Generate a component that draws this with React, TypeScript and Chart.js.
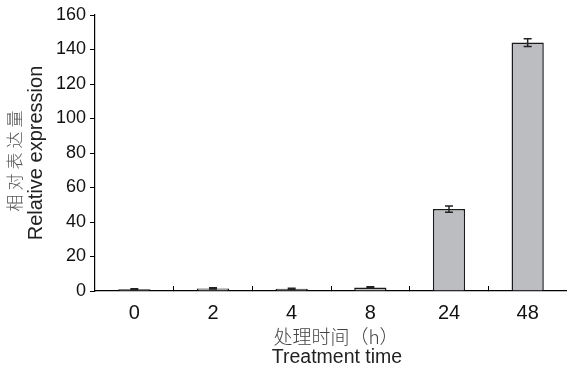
import React, { useEffect, useRef } from 'react';
import { Chart, registerables } from 'chart.js';

Chart.register(...registerables);

const categories = ['0', '2', '4', '8', '24', '48'];
const values = [1.0, 1.5, 1.3, 2.0, 47.5, 144];
const errors = [0.3, 0.4, 0.3, 0.4, 1.8, 2.2];
const yTickMin = 0;
const yTickMax = 160;
const yTickStep = 20;
const yTitleZh = '相对表达量';
const yTitleEn = 'Relative expression';
const xTitleZh = '处理时间（h）';
const xTitleEn = 'Treatment time';

const errorBarPlugin = {
  id: 'errorBars',
  afterDatasetsDraw(chart: any) {
    const ctx = chart.ctx;
    const meta = chart.getDatasetMeta(0);
    const y = chart.scales.y;
    ctx.save();
    ctx.strokeStyle = '#222';
    ctx.lineWidth = 1.5;
    meta.data.forEach((el: any, i: number) => {
      const v = values[i];
      const e = errors[i];
      const top = y.getPixelForValue(v + e);
      const bot = y.getPixelForValue(v - e);
      const x = el.x;
      ctx.beginPath();
      ctx.moveTo(x, top);
      ctx.lineTo(x, bot);
      ctx.moveTo(x - 4, top);
      ctx.lineTo(x + 4, top);
      ctx.moveTo(x - 4, bot);
      ctx.lineTo(x + 4, bot);
      ctx.stroke();
    });
    ctx.restore();
  },
};

const titlePlugin = {
  id: 'axisTitles',
  afterDraw(chart: any) {
    const ctx = chart.ctx;
    const area = chart.chartArea;
    const cy = (area.top + area.bottom) / 2;
    const cx = (area.left + area.right) / 2;
    ctx.save();
    ctx.textAlign = 'center';
    ctx.textBaseline = 'middle';
    ctx.save();
    ctx.translate(36, cy);
    ctx.rotate(-Math.PI / 2);
    ctx.fillStyle = '#222';
    ctx.font = '20px "Liberation Sans", Arial, sans-serif';
    ctx.fillText(yTitleEn, 0, 0);
    ctx.restore();
    ctx.save();
    ctx.translate(15, cy + 8);
    ctx.rotate(-Math.PI / 2);
    ctx.fillStyle = '#555';
    ctx.font = '300 17px "Noto Sans CJK SC", sans-serif';
    try { (ctx as any).letterSpacing = '4px'; } catch (e) {}
    ctx.fillText(yTitleZh, 2, 0);
    ctx.restore();
    ctx.fillStyle = '#444';
    ctx.font = '300 19px "Noto Sans CJK SC", sans-serif';
    ctx.fillText(xTitleZh, cx + 5, 337);
    ctx.fillStyle = '#222';
    ctx.font = '19.5px "Liberation Sans", Arial, sans-serif';
    ctx.fillText(xTitleEn, cx + 6, 358);
    ctx.restore();
  },
};

export default function App() {
  const ref = useRef<HTMLCanvasElement | null>(null);
  useEffect(() => {
    if (!ref.current) return;
    const chart = new Chart(ref.current, {
      type: 'bar',
      data: {
        labels: categories,
        datasets: [
          {
            data: values,
            backgroundColor: '#bcbdc1',
            borderColor: '#1a1a1a',
            borderWidth: 1.5,
            categoryPercentage: 1,
            barPercentage: 0.41,
          },
        ],
      },
      options: {
        animation: false,
        responsive: true,
        maintainAspectRatio: false,
        layout: { padding: { top: 15, left: 0, right: 0, bottom: 0 } },
        plugins: { legend: { display: false }, tooltip: { enabled: false } },
        scales: {
          x: {
            grid: {
              display: true,
              offset: true,
              drawOnChartArea: false,
              drawTicks: true,
              tickLength: -5,
              color: '#000',
              lineWidth: 1,
            },
            border: { display: true, color: '#000', width: 1.2 },
            ticks: {
              color: '#111',
              font: { family: '"Liberation Sans", Arial, sans-serif', size: 20 },
              padding: 15,
            },
            afterFit(scale: any) {
              scale.height = 81;
            },
          },
          y: {
            min: yTickMin,
            max: yTickMax,
            grid: {
              drawOnChartArea: false,
              drawTicks: true,
              tickLength: 5,
              color: '#000',
              lineWidth: 1,
            },
            border: { display: true, color: '#000', width: 1.2 },
            ticks: {
              stepSize: yTickStep,
              color: '#111',
              font: { family: '"Liberation Sans", Arial, sans-serif', size: 18 },
              padding: 4,
            },
            afterFit(scale: any) {
              scale.width = 95;
            },
          },
        },
      },
      plugins: [errorBarPlugin, titlePlugin],
    });
    return () => chart.destroy();
  }, []);
  return (
    <div style={{ position: 'fixed', left: 0, top: 0, width: 567, height: 372, background: '#fff' }}>
      <canvas ref={ref} />
    </div>
  );
}
